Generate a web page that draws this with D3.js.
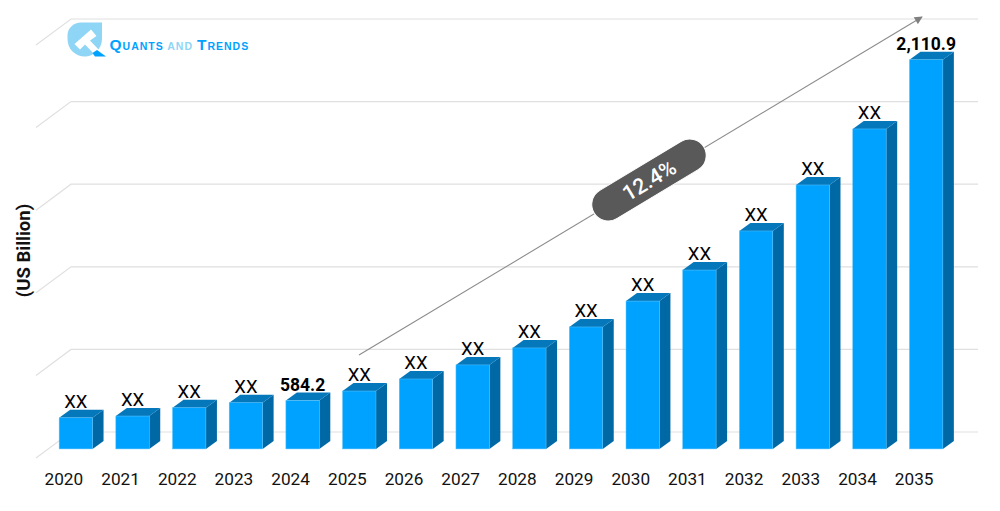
<!DOCTYPE html>
<html>
<head>
<meta charset="utf-8">
<script src="https://cdn.jsdelivr.net/npm/d3@7"></script>
<style>
  html, body { margin: 0; padding: 0; background: #fff; }
  svg { display: block; font-family: Roboto, sans-serif; }
</style>
</head>
<body>
<svg id="chart" width="1000" height="511"></svg>
<script>
// Values (only 2024 and 2035 are printed, the rest are estimates)
const years = ["2020", "2021", "2022", "2023", "2024", "2025", "2026", "2027",
  "2028", "2029", "2030", "2031", "2032", "2033", "2034", "2035"];
const values = [507, 515, 552, 575, 584.2, 627, 681, 744,
  820, 914, 1030, 1169, 1344, 1550, 1801, 2110.9];
const labels = ["XX", "XX", "XX", "XX", "584.2", "XX", "XX", "XX",
  "XX", "XX", "XX", "XX", "XX", "XX", "XX", "2,110.9"];
const gridValues = [327, 697, 1067, 1437, 1807, 2177];
const barFloor = 367.7;
const cagrLabel = "12.4%";

const svg = d3.select("#chart");

// front plane of the 3d box
const x = d3.scaleBand().domain(years).range([36, 943]);
const y = d3.scaleLinear().domain([327, 2177]).range([458, 45]);

const wallX = 35, wallY = 26;   // depth of the floor and back wall
const barW = 33.4, barDX = 11, barDY = 8;
const barShiftX = 11.5;         // bars stand in the middle of the depth

// gridlines, each one with its little diagonal at the left
const grid = svg.append("g").attr("fill", "none").attr("stroke", "#e0e0e0").attr("stroke-width", 1.2);
grid.selectAll("path").data(gridValues).enter().append("path")
  .attr("d", d => `M${x.range()[0]},${y(d)}l${wallX},${-wallY}H${x.range()[1] + wallX}`);

// year labels
const xAxis = svg.append("g")
  .attr("transform", "translate(-0.5,479)")
  .call(d3.axisBottom(x).tickSize(0).tickPadding(0));
xAxis.select(".domain").remove();
xAxis.selectAll("text")
  .attr("font-family", "Roboto, sans-serif")
  .attr("font-size", "17.2px")
  .attr("fill", "#111")
  .attr("dy", "0.72em")
  .attr("y", -6);

// y axis title
svg.append("text")
  .attr("transform", "translate(30,250.5) rotate(-90)")
  .attr("text-anchor", "middle")
  .attr("font-size", "18.5px")
  .attr("font-weight", 700)
  .attr("fill", "#111")
  .text("(US Billion)");

// bars
const bar = svg.append("g").selectAll("g")
  .data(years.map((year, i) => ({ year, value: values[i], label: labels[i] })))
  .enter().append("g")
  .attr("transform", d => `translate(${x(d.year) + (x.bandwidth() - barW) / 2 + barShiftX},0)`);

bar.append("path") // side face
  .attr("fill", "#0068a4")
  .attr("d", d => `M${barW},${y(d.value)}l${barDX},${-barDY}V${y(barFloor) - barDY}l${-barDX},${barDY}Z`);

bar.append("path") // top face
  .attr("fill", "#0578bc")
  .attr("d", d => `M0,${y(d.value)}l${barDX},${-barDY}h${barW}l${-barDX},${barDY}Z`);

bar.append("rect") // front face
  .attr("fill", "#00a2ff")
  .attr("stroke", "#59c2fb")
  .attr("stroke-width", 0.5)
  .attr("x", 0)
  .attr("y", d => y(d.value))
  .attr("width", barW)
  .attr("height", d => y(barFloor) - y(d.value));

bar.append("text")
  .attr("x", barW / 2)
  .attr("y", d => y(d.value) - barDY - 2)
  .attr("text-anchor", "middle")
  .attr("font-size", d => d.label === "XX" ? "18.5px" : "17.5px")
  .attr("font-weight", d => d.label === "XX" ? 400 : 700)
  .attr("fill", "#000")
  .text(d => d.label);

// growth arrow
const arrow = svg.append("g");
arrow.append("defs").append("marker")
  .attr("id", "head")
  .attr("viewBox", "0 0 10 10")
  .attr("refX", 9).attr("refY", 5)
  .attr("markerWidth", 9).attr("markerHeight", 8)
  .attr("markerUnits", "userSpaceOnUse")
  .attr("orient", "auto")
  .append("path").attr("d", "M0,0L10,5L0,10Z").attr("fill", "#7f7f7f");
arrow.append("line")
  .attr("x1", 359).attr("y1", 355)
  .attr("x2", 922).attr("y2", 17)
  .attr("stroke", "#8c8c8c")
  .attr("stroke-width", 1.1)
  .attr("marker-end", "url(#head)");

const pill = arrow.append("g").attr("transform", "translate(649,180) rotate(-31)");
pill.append("rect")
  .attr("x", -64).attr("y", -16.5)
  .attr("width", 128).attr("height", 33)
  .attr("rx", 16.5)
  .attr("fill", "#595959")
  .attr("stroke", "#fff")
  .attr("stroke-width", 1);
pill.append("text")
  .attr("text-anchor", "middle")
  .attr("dy", "0.36em")
  .attr("font-size", "21.5px")
  .attr("font-weight", 500)
  .attr("fill", "#fff")
  .text(cagrLabel);

// logo
const logo = svg.append("g");
logo.append("path")
  .attr("fill", "#8fd5f5")
  .attr("d", "M81,22.5H102V39C102,49 93,56.5 85,56.5C75,56.5 67.5,49 67.5,39V35C67.5,28 74,22.5 81,22.5Z");
logo.append("path")
  .attr("fill", "#fff")
  .attr("d", "M91,29.5L96.5,36L90,40.5L99,50L94,54L85,44.5L80,49.5L74.5,44Z");
logo.append("path")
  .attr("fill", "#00a2ff")
  .attr("d", "M97,50L106,56.5H95L92.5,53Z");

const logoText = svg.append("text")
  .attr("x", 109.5).attr("y", 49.5)
  .attr("font-family", "'Liberation Sans', Arial, sans-serif")
  .attr("font-weight", 700)
  .attr("font-size", "10.5px")
  .attr("letter-spacing", "1px")
  .attr("fill", "#00a2ff");
logoText.append("tspan").attr("font-size", "15.5px").text("Q");
logoText.append("tspan").text("UANTS ");
logoText.append("tspan").attr("fill", "#8fd5f5").text("AND ");
logoText.append("tspan").attr("font-size", "15.5px").text("T");
logoText.append("tspan").text("RENDS");
</script>
</body>
</html>
